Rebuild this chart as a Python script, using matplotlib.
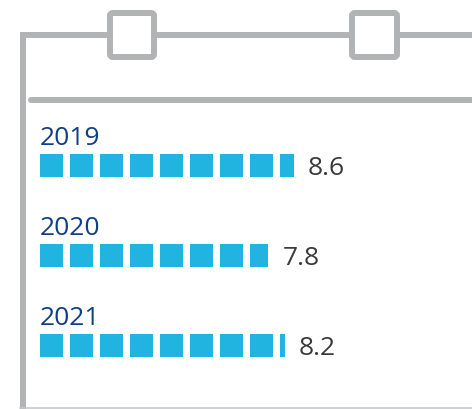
import math
import matplotlib
matplotlib.use("Agg")
import matplotlib.pyplot as plt
from matplotlib.patches import FancyBboxPatch
from matplotlib.lines import Line2D

# Data
years = ["2019", "2020", "2021"]
values = [8.6, 7.8, 8.2]
value_labels = ["8.6", "7.8", "8.2"]

# Styles
SQUARE_COLOR = "#22b4e1"
YEAR_COLOR = "#103f85"
VALUE_COLOR = "#3a3a3a"
FRAME_COLOR = "#b2b3b5"
FONT = ["Open Sans", "DejaVu Sans"]

W, H, DPI = 472, 409, 100
fig = plt.figure(figsize=(W / DPI, H / DPI), dpi=DPI)
fig.patch.set_facecolor("white")

# Background axes in pixel units for the calendar frame
bg = fig.add_axes([0, 0, 1, 1])
bg.set_xlim(0, W)
bg.set_ylim(H, 0)
bg.axis("off")

lw = 6 * 72 / DPI
# left edge and top bar
bg.add_line(Line2D([22.7, 22.7, W + 5], [H + 5, 35, 35], color=FRAME_COLOR,
                   lw=lw, solid_joinstyle="miter", solid_capstyle="butt"))
# inner divider
bg.add_line(Line2D([31, W + 5], [100, 100], color=FRAME_COLOR, lw=lw,
                   solid_capstyle="round"))
# bottom edge
bg.add_line(Line2D([20, W + 5], [408.3, 408.3], color="#c4c5c7",
                   lw=1.6 * 72 / DPI))
# binder rings
for x0, x1 in [(110, 154), (352, 397)]:
    ring = FancyBboxPatch((x0, 13), x1 - x0, 44,
                          boxstyle="round,pad=0,rounding_size=3",
                          facecolor="white", edgecolor=FRAME_COLOR, lw=lw,
                          zorder=3)
    bg.add_patch(ring)

# Pictogram axes: one unit per square pitch (30 px), one row per 90 px
ax = fig.add_axes([40 / W, 1 - 390.8 / H, 300 / W, 270 / H])
ax.set_xlim(0, 10)
ax.set_ylim(2.5, -0.5)
ax.axis("off")
ax.patch.set_alpha(0)

sq_w = 22.7 / 30
sq_h = 23 / 90
gap_units = 14.5 / 30

for row, (yr, val, lab) in enumerate(zip(years, values, value_labels)):
    n = math.ceil(val)
    lefts = list(range(n))
    widths = [min(1.0, val - i) * sq_w for i in lefts]
    ax.barh([row] * n, widths, left=lefts, height=sq_h,
            color=SQUARE_COLOR, linewidth=0)
    end = lefts[-1] + widths[-1]
    ax.text(0, row - 0.231, yr, color=YEAR_COLOR, fontsize=19,
            family=FONT, ha="left", va="baseline")
    ax.text(end + gap_units, row + 0.102, lab, color=VALUE_COLOR,
            fontsize=19, family=FONT, ha="left", va="baseline")

fig.savefig("out.png", dpi=DPI, facecolor="white")
